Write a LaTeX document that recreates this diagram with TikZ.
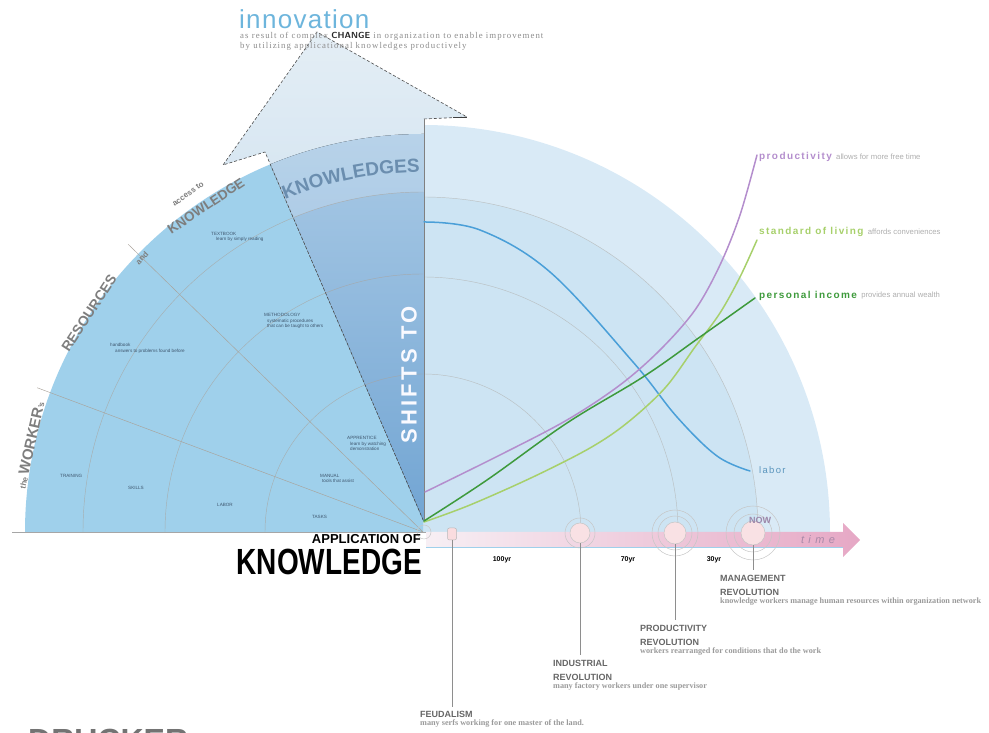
\documentclass[tikz,border=0pt]{standalone}
\usepackage{fontspec}
\setmainfont{Liberation Sans}
\newfontfamily\serifface{Liberation Serif}
\newfontfamily\noteface[LetterSpace=12]{Liberation Serif}
\newfontfamily\spacedface[LetterSpace=15]{Liberation Sans}
\newfontfamily\labelface[LetterSpace=14]{Liberation Sans}
\newfontfamily\titleface[LetterSpace=5]{Liberation Sans}
\newfontfamily\timeface[LetterSpace=40]{Liberation Sans}
\usetikzlibrary{decorations.text}

\definecolor{discblue}{HTML}{9FD0EB}
\definecolor{paleblue}{HTML}{D9EAF6}
\definecolor{innerblue}{HTML}{CDE4F3}
\definecolor{arrowtop}{HTML}{E4EEF5}
\definecolor{arrowbot}{HTML}{B9D4EA}
\definecolor{wedgetop}{HTML}{ABCBE6}
\definecolor{wedgebot}{HTML}{72A5D3}
\definecolor{gridline}{HTML}{A9A29A}
\definecolor{edgegray}{HTML}{7E7E7E}
\definecolor{tinyblue}{HTML}{3E566E}
\definecolor{knowblue}{HTML}{6B8EAF}
\definecolor{innov}{HTML}{6DB5DC}
\definecolor{laborc}{HTML}{4A9FD8}
\definecolor{prodc}{HTML}{B48ECD}
\definecolor{livingc}{HTML}{A7D06B}
\definecolor{incomec}{HTML}{3E9A3C}
\definecolor{bandl}{HTML}{F7EFF4}
\definecolor{bandr}{HTML}{E6A8C5}
\definecolor{stemgray}{HTML}{8E8E8E}
\definecolor{eragray}{HTML}{666666}
\definecolor{subgray}{HTML}{9A9A9A}
\definecolor{nowc}{HTML}{9C87AA}
\definecolor{timec}{HTML}{A889A8}

\begin{document}
\begin{tikzpicture}[x=1pt,y=1pt,
  tinylabel/.style={font=\fontsize{4.6}{5.6}\selectfont, text=tinyblue, align=left, inner sep=0, anchor=north west},
  edgelabel/.style={text=edgegray, inner sep=0},
  grid arc/.style={draw=gridline, line width=0.45},
  curve/.style={line width=1.5, line cap=round},
  curvelabel/.style={font=\labelface\bfseries\fontsize{10}{10}\selectfont, anchor=west, inner sep=0},
  curvenote/.style={font=\fontsize{7.7}{7.7}\selectfont, text=subgray!80, anchor=west, inner sep=0},
  erahead/.style={font=\bfseries\fontsize{9}{14}\selectfont, text=eragray, align=left, anchor=north west, inner sep=0},
  erasub/.style={font=\serifface\bfseries\fontsize{8.2}{8.2}\selectfont, text=subgray, anchor=north west, inner sep=0},
  yearlabel/.style={font=\bfseries\fontsize{7}{7}\selectfont, inner sep=0},
  stem/.style={draw=stemgray, line width=1},
  ring/.style={circle, draw=gray!45, line width=0.5, inner sep=0},
]
\useasboundingbox (0,0) rectangle (989,733);
\clip (0,0) rectangle (989,733);

\coordinate (C) at (423,201);
\coordinate (O) at (424,211);

% right half: pale disc with inner band and faint rings
\fill[paleblue] (C) -- ++(407,0) arc (0:90:407) -- cycle;
\fill[innerblue] (C) -- ++(335,0) arc (0:90:335) -- cycle;
\foreach \r in {158,255,335}
  \draw[grid arc, draw opacity=0.55] (C) ++(\r,0) arc (0:90:\r);

% left quarter disc
\fill[discblue] (C) -- ++(-398,0) arc (180:90:398) -- cycle;

% big arrow rising from the origin
\path[top color=arrowtop, bottom color=arrowbot]
  (O) -- (265,581) -- (223,568) -- (317,701) -- (467,616) -- (424,614) -- cycle;
\begin{scope}
  \clip (C) circle (398);
  \fill[top color=wedgetop, bottom color=wedgebot] (O) -- (265,581) -- (424,614) -- cycle;
  \begin{scope}
    \clip (O) -- (265,581) -- (424,614) -- cycle;
    \fill[white, opacity=0.18, even odd rule] (C) circle (398) (C) circle (340);
  \end{scope}
\end{scope}
\draw[densely dashed, black!70, line width=0.6]
  (424,614) -- (467,616) -- (317,701) -- (223,568) -- (265,581) -- (O);
\draw[black!75, line width=0.9] (453,616) -- (467,616);
\draw[gray, line width=0.8] (O) -- (424,614);

% rings and sector lines of the left quarter
\foreach \r in {158,258,340}
  \draw[grid arc, draw opacity=0.7] (C) ++(180:\r) arc (180:90:\r);
\draw[grid arc] (C) -- ++(159.5:412);
\draw[grid arc] (C) -- ++(135.7:412);

% labels along the rim of the left quarter
\node[edgelabel, rotate=77.5, font=\bfseries\fontsize{15}{15}\selectfont] (worker) at (30,288)
  {{\fontsize{8}{8}\selectfont the }WORKER{\fontsize{8}{8}\selectfont's}};
\node[edgelabel, rotate=56.8, font=\bfseries\fontsize{14}{14}\selectfont] (resources) at (89,420) {RESOURCES};
\node[edgelabel, rotate=46.5, font=\bfseries\fontsize{8}{8}\selectfont] (and) at (142,475) {and};
\node[edgelabel, rotate=35, font=\bfseries\fontsize{8}{8}\selectfont] (access) at (188,539) {access to};
\node[edgelabel, rotate=33.6, font=\bfseries\fontsize{13.5}{13.5}\selectfont] (knowrim) at (206,527) {KNOWLEDGE};

% small notes inside the left quarter
\node[tinylabel] (textbook) at (211,501) {TEXTBOOK\\[-0.5pt]\hspace*{5pt}learn by simply reading};
\node[tinylabel] (method) at (264,420) {METHODOLOGY\\\hspace*{3pt}systematic procedures\\\hspace*{3pt}that can be taught to others};
\node[tinylabel] (handbook) at (110,390) {handbook\\\hspace*{5pt}answers to problems found before};
\node[tinylabel] (training) at (60,259) {TRAINING};
\node[tinylabel] (skills) at (128,247) {SKILLS};
\node[tinylabel] (laborA) at (217,230) {LABOR};
\node[tinylabel] (manual) at (320,259) {MANUAL\\\hspace*{2pt}tools that assist};
\node[tinylabel] (apprentice) at (347,297) {APPRENTICE\\\hspace*{3pt}learn by watching\\\hspace*{3pt}demonstration};
\node[tinylabel] (tasks) at (312,218) {TASKS};

% curved and rotated headings in the arrow
\path[decorate, decoration={text along path, text align=center,
  text={|\bfseries\fontsize{19}{19}\selectfont\color{knowblue}|KNOWLEDGES}}]
  (C) ++(114:360) arc (114:89:360);
\node[rotate=90, font=\spacedface\bfseries\fontsize{22}{22}\selectfont, text=white!85!blue!12, inner sep=0] (shifts) at (409,358) {SHIFTS TO};

% title
\node[anchor=base west, inner sep=0, font=\titleface\fontsize{26}{26}\selectfont, text=innov] (innovation) at (239,704) {innovation};
\node[anchor=base west, inner sep=0, font=\noteface\fontsize{8.8}{8.8}\selectfont, text=black!45] (sub1) at (240,694)
  {as result of complex {\sffamily\bfseries\color{black!85}CHANGE} in organization to enable improvement};
\node[anchor=base west, inner sep=0, font=\noteface\fontsize{8.8}{8.8}\selectfont, text=black!45] (sub2) at (240,684)
  {by utilizing applicational knowledges productively};

% trend curves
\draw[curve, laborc] plot[smooth, tension=0.6] coordinates
  {(424,511) (480,503) (550,461) (633,371) (677,316) (717,277) (750,262)};
\draw[curve, prodc] plot[smooth, tension=0.55] coordinates
  {(425,241) (500,278) (567,313) (620,348) (660,383) (695,423) (720,468) (740,518) (757,578)};
\draw[curve, livingc] plot[smooth, tension=0.55] coordinates
  {(424,211) (470,228) (533,256) (590,285) (627,310) (665,345) (695,386) (720,420) (740,456) (757,493)};
\draw[curve, incomec] plot[smooth, tension=0.6] coordinates
  {(424,212) (487,253) (567,310) (643,356) (700,396) (755,435)};

\node[curvelabel, text=prodc] (prod) at (759,576) {productivity};
\node[curvenote] (prodnote) at ([xshift=4pt]prod.east) {allows for more free time};
\node[curvelabel, text=livingc] (living) at (759,501) {standard of living};
\node[curvenote] (livingnote) at ([xshift=4pt]living.east) {affords conveniences};
\node[curvelabel, text=incomec] (income) at (759,437) {personal income};
\node[curvenote] (incomenote) at ([xshift=4pt]income.east) {provides annual wealth};
\node[curvelabel, text=laborc!70!gray, font=\labelface\fontsize{9.5}{9.5}\selectfont] (labor) at (759,263) {labor};

% time line
\draw[gray!70, line width=0.6] (12,201) -- (843,201);
\shade[left color=bandl, right color=bandr]
  (426,201) -- (843,201) -- (843,210) -- (860,193) -- (843,176) -- (843,186) -- (426,186) -- cycle;
\draw[discblue, line width=0.8] (426,186) -- (843,186);
\node[font=\timeface\itshape\fontsize{11}{11}\selectfont, text=timec, inner sep=0] (time) at (818,193) {time};

\node[ring, minimum size=14] (origin) at (424,201) {};
\node[draw=gray!55, fill=bandl!60!pink, rounded corners=2, minimum width=9, minimum height=12, inner sep=0, line width=0.5] (c1) at (452,199) {};
\node[ring, minimum size=30] (c2o) at (580,200) {};
\node[ring, fill=bandl!70!pink, minimum size=20] (c2) at (580,200) {};
\node[ring, minimum size=46] (c3oo) at (675,200) {};
\node[ring, minimum size=34] (c3o) at (675,200) {};
\node[ring, fill=bandl!70!pink, minimum size=22] (c3) at (675,200) {};
\node[ring, minimum size=54] (c4oo) at (753,200) {};
\node[ring, minimum size=38] (c4o) at (753,200) {};
\node[ring, fill=bandl!70!pink, minimum size=24] (c4) at (753,200) {};
\node[font=\bfseries\fontsize{9}{9}\selectfont, text=nowc, inner sep=0] (now) at (760,213) {NOW};

\node[yearlabel] (y100) at (502,173) {100yr};
\node[yearlabel] (y70) at (628,173) {70yr};
\node[yearlabel] (y30) at (714,173) {30yr};

\node[font=\bfseries\fontsize{13}{13}\selectfont, anchor=east, inner sep=0] (appl) at (421,194) {APPLICATION OF};
\node[font=\bfseries\fontsize{28}{28}\selectfont, anchor=east, inner sep=0, yscale=1.3] (knowbig) at (422,171) {KNOWLEDGE};

% eras hanging under the time line
\node[erahead] (feud) at (420,22) {FEUDALISM};
\node[erasub] (feudsub) at ([yshift=-1.5pt]feud.south west) {many serfs working for one master of the land.};
\node[erahead] (indus) at (553,73) {INDUSTRIAL\\REVOLUTION};
\node[erasub] (indussub) at ([yshift=-1.5pt]indus.south west) {many factory workers under one supervisor};
\node[erahead] (produ) at (640,108) {PRODUCTIVITY\\REVOLUTION};
\node[erasub] (produsub) at ([yshift=-1.5pt]produ.south west) {workers rearranged for conditions that do the work};
\node[erahead] (manage) at (720,158) {MANAGEMENT\\REVOLUTION};
\node[erasub] (managesub) at ([yshift=-1.5pt]manage.south west) {knowledge workers manage human resources within organization network};

\draw[stem] (c1.south) -- ([yshift=4pt]c1.south |- feud.north);
\draw[stem] (c2.south) -- ([yshift=5pt]c2.south |- indus.north);
\draw[stem] (c3.south) -- ([yshift=5pt]c3.south |- produ.north);
\draw[stem] (c4.south) -- ([yshift=5pt]c4.south |- manage.north);

% large heading running off the lower edge
\node[anchor=base west, inner sep=0, font=\bfseries\fontsize{32}{32}\selectfont, text=black!55] (drucker) at (28,-19) {DRUCKER};
\end{tikzpicture}
\end{document}
